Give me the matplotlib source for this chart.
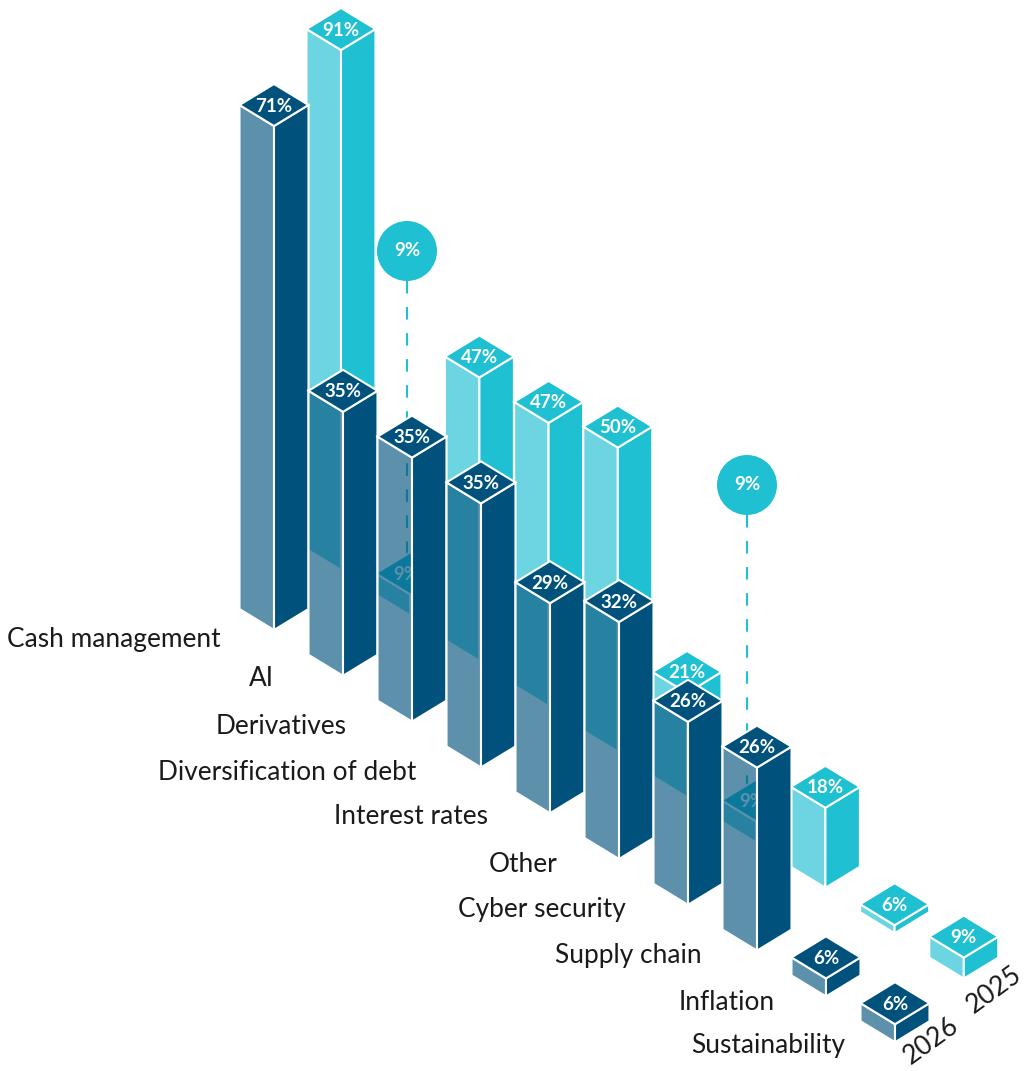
import numpy as np
import matplotlib
matplotlib.use("Agg")
import matplotlib.pyplot as plt
from matplotlib.patches import Polygon, Circle

# Survey values, one entry per topic
categories = ["Cash management", "AI", "Derivatives", "Diversification of debt",
              "Interest rates", "Other", "Cyber security", "Supply chain",
              "Inflation", "Sustainability"]
pct_2026 = [71, 35, 35, 35, 29, 32, 26, 26, 6, 6]
pct_2025 = [91, 9, 47, 47, 50, 21, 9, 18, 6, 9]

# Height scales of the columns (percent -> pixels), broken so the tall ones fit the page
scale_pct_2026 = [0, 6, 26, 35, 71]
scale_px_2026 = [0, 18, 183, 264, 504]
scale_pct_2025 = [0, 6, 9, 18, 21, 50, 91]
scale_px_2025 = [0, 8, 21, 80, 104, 304, 520]

# Colours
DARK = "#00527C"
TEAL = "#1FC0D2"
TEAL_LIGHT = "#6DD5E2"
TEXT = "#1A1A1A"

# Isometric layout
HALF_W = 34.5
HALF_H = 21
EDGE = 1.5

fig = plt.figure(figsize=(10.28, 10.71), dpi=100)
ax = fig.add_axes([0, 0, 1, 1])
ax.set_xlim(0, 1028)
ax.set_ylim(1071, 0)
ax.axis("off")


def draw_column(cx, base, height, top_color, right_color, left_color, left_alpha, z):
    """Draw one isometric column whose front bottom corner sits at (cx, base)."""
    front = base - height
    mid = front - HALF_H
    left = [(cx - HALF_W, mid), (cx, front), (cx, base), (cx - HALF_W, base - HALF_H)]
    right = [(cx + HALF_W, mid), (cx, front), (cx, base), (cx + HALF_W, base - HALF_H)]
    top = [(cx, mid - HALF_H), (cx + HALF_W, mid), (cx, front), (cx - HALF_W, mid)]
    left_rgba = matplotlib.colors.to_rgba(left_color, left_alpha)
    ax.add_patch(Polygon(left, closed=True, facecolor=left_rgba, edgecolor="white",
                         lw=EDGE, joinstyle="miter", zorder=z))
    ax.add_patch(Polygon(right, closed=True, facecolor=right_color, edgecolor="white",
                         lw=EDGE, joinstyle="miter", zorder=z))
    ax.add_patch(Polygon(top, closed=True, facecolor=top_color, edgecolor="white",
                         lw=EDGE, joinstyle="miter", zorder=z + 0.1))
    return mid


# Callout bubbles for the columns that hide behind the 2026 row
bubble_index = [1, 6]
bubble_x = [407, 747]
bubble_y = [251, 485]

# 2025 row sits behind the 2026 row
for i, v in enumerate(pct_2025):
    cx = 341 + 69.2 * i
    base = 570 + 45.4 * i
    h = np.interp(v, scale_pct_2025, scale_px_2025)
    mid = draw_column(cx, base, h, TEAL, TEAL, TEAL_LIGHT, 1.0, 2 + i * 0.01)
    # the hidden columns have their label nudged left of centre
    tx = cx - 4 if i in bubble_index else cx
    ax.text(tx, mid + 1, f"{v}%", color="white", fontsize=13.5, fontweight="bold",
            family="Lato", ha="center", va="center", zorder=2.5 + i * 0.01)

for i, bx, by in zip(bubble_index, bubble_x, bubble_y):
    h = np.interp(pct_2025[i], scale_pct_2025, scale_px_2025)
    apex = 570 + 45.4 * i - h - 2 * HALF_H
    ax.plot([bx, bx], [by + 30, apex + 8], color=TEAL, lw=1.5, ls=(0, (6, 6.5)), zorder=1.5)
    ax.add_patch(Circle((bx, by), 30, facecolor=TEAL, edgecolor="none", zorder=3))
    ax.text(bx, by, f"{pct_2025[i]}%", color="white", fontsize=13.5, fontweight="bold",
            family="Lato", ha="center", va="center", zorder=3.1)

# 2026 row, left face is see-through so the row behind shows
for i, v in enumerate(pct_2026):
    cx = 274 + 69 * i
    base = 630 + 45.8 * i
    h = np.interp(v, scale_pct_2026, scale_px_2026)
    mid = draw_column(cx, base, h, DARK, DARK, DARK, 0.64, 4 + i * 0.01)
    ax.text(cx, mid + 1, f"{v}%", color="white", fontsize=13.5, fontweight="bold",
            family="Lato", ha="center", va="center", zorder=4.5 + i * 0.01)

# Topic labels, right aligned under their columns
label_right = [221, 274, 347, 416, 488, 557, 626, 702, 775, 845]
label_y = [639, 679, 726, 772, 817, 864, 909, 955, 1002, 1046]
for name, lx, ly in zip(categories, label_right, label_y):
    ax.text(lx, ly, name, color=TEXT, fontsize=18.9, family="Lato", fontweight="normal",
            ha="right", va="center", zorder=6)

# Year labels run along the row direction
ax.text(931, 1041, "2026", color=TEXT, fontsize=19, family="Lato", fontweight="normal",
        rotation=36, ha="center", va="center", zorder=6)
ax.text(994, 990, "2025", color=TEXT, fontsize=19, family="Lato", fontweight="normal",
        rotation=36, ha="center", va="center", zorder=6)

fig.savefig("out.png", dpi=100, facecolor="white")
